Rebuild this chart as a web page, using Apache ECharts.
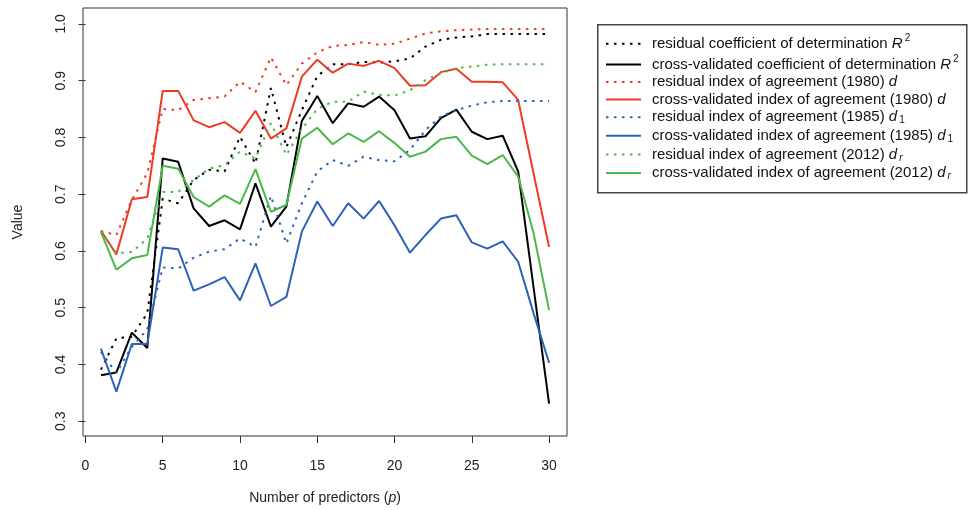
<!DOCTYPE html>
<html>
<head>
<meta charset="utf-8">
<script src="https://cdn.jsdelivr.net/npm/echarts@6/dist/echarts.min.js"></script>
<style>
html,body{margin:0;padding:0;background:#fff;}
#chart{width:968px;height:510px;}
</style>
</head>
<body>
<div id="chart"></div>
<script>
// ---- data ----
var predictors = [1,2,3,4,5,6,7,8,9,10,11,12,13,14,15,16,17,18,19,20,21,22,23,24,25,26,27,28,29,30];
var xTicks = [0,5,10,15,20,25,30];
var yTicks = [0.3,0.4,0.5,0.6,0.7,0.8,0.9,1.0];

var residualR2 = [0.391,0.446,0.449,0.490,0.692,0.684,0.725,0.743,0.740,0.801,0.754,0.887,0.783,0.848,0.908,0.929,0.929,0.933,0.932,0.934,0.939,0.960,0.972,0.976,0.978,0.982,0.982,0.982,0.982,0.982];
var cvR2 = [0.381,0.386,0.456,0.429,0.763,0.757,0.675,0.644,0.654,0.638,0.719,0.643,0.678,0.829,0.873,0.825,0.860,0.854,0.872,0.848,0.798,0.802,0.834,0.849,0.810,0.797,0.803,0.740,0.535,0.331];
var residualD = [0.635,0.628,0.690,0.737,0.850,0.848,0.866,0.869,0.872,0.898,0.880,0.941,0.892,0.930,0.950,0.961,0.963,0.968,0.963,0.965,0.974,0.983,0.987,0.989,0.990,0.991,0.991,0.991,0.991,0.991];
var cvD = [0.636,0.594,0.691,0.695,0.882,0.882,0.830,0.818,0.827,0.808,0.847,0.798,0.816,0.907,0.937,0.914,0.930,0.926,0.935,0.922,0.891,0.892,0.915,0.921,0.898,0.898,0.897,0.866,0.736,0.607];
var residualD1 = [0.422,0.385,0.431,0.462,0.571,0.569,0.588,0.599,0.603,0.622,0.607,0.697,0.613,0.684,0.740,0.760,0.750,0.766,0.760,0.758,0.778,0.813,0.837,0.848,0.856,0.862,0.864,0.864,0.864,0.864];
var cvD1 = [0.428,0.352,0.436,0.436,0.606,0.603,0.530,0.541,0.554,0.513,0.578,0.503,0.519,0.634,0.687,0.644,0.684,0.657,0.688,0.645,0.597,0.628,0.657,0.663,0.615,0.604,0.617,0.581,0.490,0.403];
var residualDr = [0.635,0.596,0.598,0.622,0.704,0.704,0.725,0.745,0.751,0.775,0.763,0.825,0.769,0.815,0.850,0.863,0.863,0.881,0.875,0.874,0.883,0.901,0.913,0.922,0.925,0.928,0.929,0.929,0.929,0.929];
var cvDr = [0.633,0.567,0.587,0.593,0.750,0.745,0.695,0.678,0.698,0.683,0.744,0.669,0.681,0.798,0.817,0.788,0.807,0.792,0.811,0.790,0.766,0.775,0.797,0.801,0.768,0.753,0.769,0.731,0.631,0.496];

var seriesNames = [
  'residual coefficient of determination R2',
  'cross-validated coefficient of determination R2',
  'residual index of agreement (1980) d',
  'cross-validated index of agreement (1980) d',
  'residual index of agreement (1985) d1',
  'cross-validated index of agreement (1985) d1',
  'residual index of agreement (2012) dr',
  'cross-validated index of agreement (2012) dr'
];
var legendLabels = [
  'residual coefficient of determination {i|R}{sup|2}',
  'cross-validated coefficient of determination {i|R}{sup|2}',
  'residual index of agreement (1980) {i|d}',
  'cross-validated index of agreement (1980) {i|d}',
  'residual index of agreement (1985) {i|d}{sub|1}',
  'cross-validated index of agreement (1985) {i|d}{sub|1}',
  'residual index of agreement (2012) {i|d}{subi|r}',
  'cross-validated index of agreement (2012) {i|d}{subi|r}'
];
var seriesValues = [residualR2, cvR2, residualD, cvD, residualD1, cvD1, residualDr, cvDr];
var seriesColors = ['#000000','#000000','#ee3b24','#ee3b24','#2b62b8','#2b62b8','#4cb84a','#4cb84a'];
var seriesDotted = [true,false,true,false,true,false,true,false];

// ---- chart ----
var FONT = 'Liberation Sans, Arial, sans-serif';
var chart = echarts.init(document.getElementById('chart'), null, {renderer:'canvas'});

var series = seriesValues.map(function(vals, k){
  return {
    name: seriesNames[k],
    type: 'line',
    data: predictors.map(function(p, i){ return [p, vals[i]]; }),
    symbol: 'none',
    showSymbol: false,
    animation: false,
    lineStyle: {
      color: seriesColors[k],
      width: 2,
      type: seriesDotted[k] ? [2.5, 5.5] : 'solid',
      cap: 'butt'
    },
    itemStyle: {color: seriesColors[k]},
    emphasis: {disabled: true}
  };
});

var labelMap = {};
seriesNames.forEach(function(n, k){ labelMap[n] = legendLabels[k]; });

var LH = 15;
chart.setOption({
  animation: false,
  backgroundColor: '#ffffff',
  grid: {
    left: 83, top: 8, width: 484, height: 428,
    show: true, borderColor: '#333', borderWidth: 1, backgroundColor: 'transparent'
  },
  xAxis: {
    type: 'value',
    min: -0.16, max: 31.16,
    name: 'Number of predictors ({ip|p})',
    nameLocation: 'middle',
    nameGap: 55,
    nameTextStyle: {
      fontFamily: FONT, fontSize: 14, color: '#222',
      rich: {ip: {fontFamily: FONT, fontSize: 14, fontStyle: 'italic', color: '#222'}}
    },
    axisLine: {show: false},
    splitLine: {show: false},
    axisTick: {show: true, length: 7, customValues: xTicks, lineStyle: {color: '#333', width: 1}},
    axisLabel: {customValues: xTicks, margin: 23, fontFamily: FONT, fontSize: 14, color: '#222'}
  },
  yAxis: {
    type: 'value',
    min: 0.274, max: 1.028,
    name: 'Value',
    nameLocation: 'middle',
    nameGap: 58,
    nameRotate: 90,
    nameTextStyle: {fontFamily: FONT, fontSize: 14, color: '#222'},
    axisLine: {show: false},
    splitLine: {show: false},
    axisTick: {show: true, length: 7, customValues: yTicks, lineStyle: {color: '#333', width: 1}},
    axisLabel: {
      customValues: yTicks, rotate: 90, margin: 15,
      fontFamily: FONT, fontSize: 14, color: '#222',
      formatter: function(v){ return v.toFixed(1); }
    }
  },
  legend: {
    show: true,
    orient: 'vertical',
    left: 605, top: 33.3,
    padding: 0,
    itemWidth: 35,
    itemHeight: 14,
    itemGap: 2.6,
    selectedMode: false,
    data: seriesNames,
    itemStyle: {opacity: 0},
    formatter: function(name){ return labelMap[name]; },
    textStyle: {
      fontFamily: FONT, fontSize: 15, color: '#111', padding: [0,0,0,6],
      lineHeight: LH,
      rich: {
        i: {fontFamily: FONT, fontSize: 15, fontStyle: 'italic', color: '#111', lineHeight: LH},
        sup: {fontFamily: FONT, fontSize: 10, color: '#111', lineHeight: LH, height: 4, verticalAlign: 'top', padding: [0,0,0,2]},
        sub: {fontFamily: FONT, fontSize: 10, color: '#111', lineHeight: LH, height: 8, verticalAlign: 'bottom', padding: [0,0,0,2]},
        subi: {fontFamily: FONT, fontSize: 10, fontStyle: 'italic', color: '#111', lineHeight: LH, height: 8, verticalAlign: 'bottom', padding: [0,0,0,2]}
      }
    }
  },
  graphic: [{
    type: 'rect',
    left: 597, top: 24,
    shape: {width: 369, height: 168},
    style: {fill: 'transparent', stroke: '#444', lineWidth: 1.5},
    silent: true, z: -1
  }],
  series: series
});
</script>
</body>
</html>
